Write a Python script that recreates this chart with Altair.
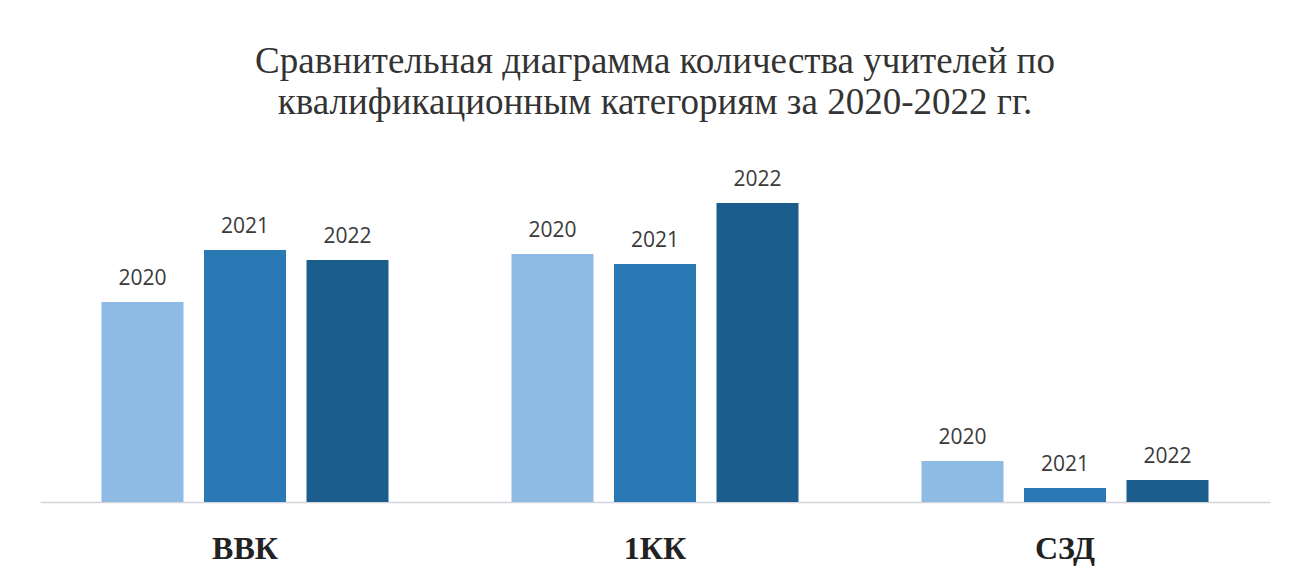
import altair as alt
import pandas as pd

categories = ["ВВК", "1КК", "СЗД"]
years = ["2020", "2021", "2022"]
values_2020 = [20.0, 24.8, 4.1]
values_2021 = [25.2, 23.8, 1.4]
values_2022 = [24.2, 29.9, 2.2]
colors = ["#8dbbe3", "#2a78b4", "#1b5d8c"]

rows = []
for i, c in enumerate(categories):
    for y, vals in zip(years, [values_2020, values_2021, values_2022]):
        rows.append({"category": c, "year": y, "value": vals[i]})
df = pd.DataFrame(rows)

x = alt.X("category:N", sort=categories, title=None,
          scale=alt.Scale(paddingInner=0.3, paddingOuter=0.15),
          axis=alt.Axis(labelAngle=0, ticks=False, tickSize=0, grid=False,
                        domainColor="#d4d4dc", domainWidth=1.5,
                        labelFont="Liberation Serif", labelFontWeight="bold",
                        labelFontSize=32, labelColor="#222222",
                        labelBaseline="alphabetic", labelPadding=56))
xo = alt.XOffset("year:N", sort=years, scale=alt.Scale(paddingInner=0.2, paddingOuter=0))
y = alt.Y("value:Q", scale=alt.Scale(domain=[0, 35]), axis=None)

bars = alt.Chart(df).mark_bar().encode(
    x=x, xOffset=xo, y=y,
    color=alt.Color("year:N", scale=alt.Scale(domain=years, range=colors), legend=None),
)
labels = alt.Chart(df).mark_text(
    dy=-17, baseline="alphabetic", font="Open Sans", fontSize=21, color="#3a3a3a"
).encode(x=x, xOffset=xo, y=y, text="year:N")

chart = (bars + labels).properties(
    width=1230, height=350,
    autosize=alt.AutoSizeParams(type="none"),
    padding={"left": 32, "top": 144, "right": 13, "bottom": 70},
    title=alt.Title(
        ["Сравнительная диаграмма количества учителей по",
         "квалификационным категориям за 2020-2022 гг."],
        font="Liberation Serif", fontSize=37, fontWeight="normal",
        color="#333333", anchor="middle", offset=30, lineHeight=41),
).configure_view(stroke=None)

chart.save("out.html", embed_options={"renderer": "svg", "actions": False})
